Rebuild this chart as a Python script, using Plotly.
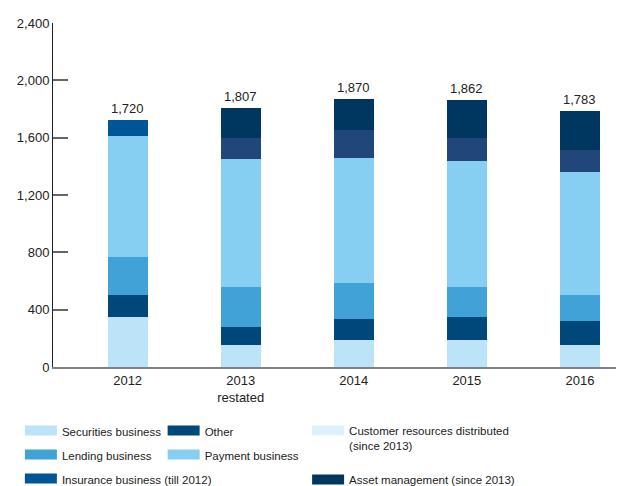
import plotly.graph_objects as go

years = ["2012", "2013<br>restated", "2014", "2015", "2016"]
totals = [1720, 1807, 1870, 1862, 1783]

securities = [351, 157, 185, 185, 157]
other = [148, 125, 153, 166, 167]
lending = [268, 273, 246, 204, 175]
payment = [843, 899, 877, 885, 861]
insurance = [110, None, None, None, None]
customer_resources = [None, 141, 192, 155, 155]
asset_management = [None, 212, 217, 267, 268]

series = [
    ("Securities business", securities, "#bde3f8", "#bde3f8", "legend"),
    ("Other", other, "#00477a", "#00477a", "legend2"),
    ("Lending business", lending, "#40a2d6", "#40a2d6", "legend"),
    ("Payment business", payment, "#87cef3", "#87cef3", "legend2"),
    ("Insurance business (till 2012)", insurance, "#005597", "#005597", "legend"),
    ("Customer resources distributed<br>(since 2013)", customer_resources, "#21477a", "#ddf0fc", "legend3"),
    ("Asset management (since 2013)", asset_management, "#003760", "#003760", "legend3"),
]

font_family = "Liberation Sans, Arial, sans-serif"
fig = go.Figure()

for name, vals, bar_color, _, _ in series:
    fig.add_trace(go.Bar(
        x=years, y=vals, name=name, marker_color=bar_color,
        marker_line_width=0, width=0.354, showlegend=False,
        hoverinfo="skip",
    ))

# legend entries (swatches as in the reference)
for i, (name, _, _, leg_color, leg) in enumerate(series):
    fig.add_trace(go.Scatter(
        x=[None], y=[None], mode="lines", name=name,
        line=dict(color=leg_color, width=12),
        legend=leg, legendgroup=f"g{i}", showlegend=True,
    ))

for i, tot in enumerate(totals):
    fig.add_annotation(
        x=i, y=tot, text=f"{tot:,}", showarrow=False,
        yanchor="bottom", yshift=2,
        font=dict(family=font_family, size=13, color="#222222"),
    )

def leg_opts(x, gap):
    return dict(
        x=x, y=-0.144,
        orientation="v", xanchor="left", yanchor="top",
        bgcolor="rgba(0,0,0,0)", itemwidth=32, tracegroupgap=gap,
        traceorder="grouped", valign="top",
        font=dict(family=font_family, size=11.5, color="#222222"),
        itemclick=False, itemdoubleclick=False,
    )

fig.update_layout(
    width=616, height=478,
    margin=dict(l=45, r=0, t=15, b=119, autoexpand=False),
    barmode="stack",
    plot_bgcolor="white", paper_bgcolor="white",
    font=dict(family=font_family, size=13, color="#222222"),
    xaxis=dict(
        type="category", range=[-0.66, 4.39],
        showline=True, linecolor="#808080", linewidth=2,
        ticks="", showgrid=False, zeroline=False,
        tickfont=dict(size=13, color="#222222"),
    ),
    yaxis=dict(
        range=[0, 2400], tickvals=[0, 400, 800, 1200, 1600, 2000, 2400],
        tickformat=",", showline=True, linecolor="#222222", linewidth=1,
        ticks="inside", ticklen=15, tickwidth=2, tickcolor="#666666",
        showgrid=False, zeroline=False,
        tickfont=dict(size=13, color="#222222"),
    ),
    legend=leg_opts(-0.058, 5),
    legend2=leg_opts(0.192, 5),
    legend3=leg_opts(0.445, 16),
)

fig.write_html("out.html")
